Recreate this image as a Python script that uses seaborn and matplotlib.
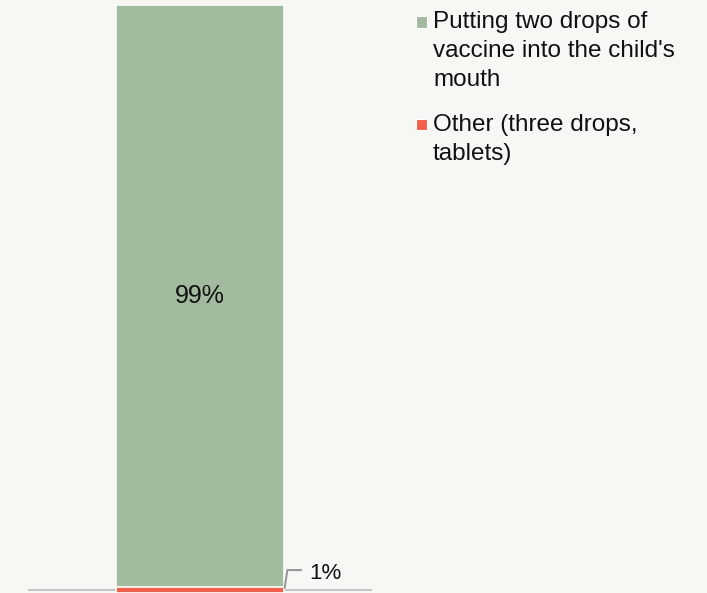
import matplotlib
matplotlib.use("Agg")
import matplotlib.pyplot as plt
import seaborn as sns
import pandas as pd
from matplotlib.patches import Rectangle

categories = ["Putting two drops of\nvaccine into the child's\nmouth", "Other (three drops,\ntablets)"]
values = [99, 1]
colors = ["#a2bb9f", "#f2604c"]
labels = ["99%", "1%"]

BG = "#f7f7f3"
sns.set_theme(style="white")
plt.rcParams["font.family"] = ["Liberation Sans", "DejaVu Sans"]

fig = plt.figure(figsize=(7.07, 5.93), dpi=100, facecolor=BG)
ax = fig.add_axes([28/707, 0.0, 344/707, (593-5)/593])
ax.set_facecolor(BG)

# stacked: draw cumulative totals, largest first
cum = [sum(values[i:]) for i in range(len(values))]
for i, (c, col) in enumerate(zip(cum, colors)):
    df = pd.DataFrame({"x": ["a"], "y": [c]})
    sns.barplot(data=df, x="x", y="y", color=col, width=1.0, saturation=1,
                edgecolor="white", linewidth=1.2, ax=ax)

ax.set_xlim(-1.02, 1.02)
ax.set_ylim(0, 100)
for s in ["top", "right", "left", "bottom"]:
    ax.spines[s].set_visible(False)
ax.axhline(0.43, color="#bbbbbb", lw=1.2, zorder=0.5)
ax.set_xticks([]); ax.set_yticks([])
ax.set_xlabel(""); ax.set_ylabel("")

# value labels
ax.text(0, 100 - 291/5.88, labels[0], ha="center", va="center", fontsize=18, color="#111111")
ax.plot([0.502, 0.518, 0.60], [0.85, 3.9, 3.9], color="#999999", lw=1.5, clip_on=False)
ax.text(0.648, 3.4, labels[1], ha="left", va="center", fontsize=16, color="#111111")

# legend (manual)
ys = [22, 124.5]
for y, cat, col in zip(ys, categories, colors):
    fig.patches.append(Rectangle((416/707, 1 - (y+5.5)/593), 11/707, 11/593,
                                 transform=fig.transFigure, facecolor=col, edgecolor="white", lw=0.8))
    fig.text(433/707, 1 - (y-11)/593, cat, ha="left", va="top", fontsize=17.5,
             color="#111111", linespacing=1.42)

fig.savefig("out.png", dpi=100, facecolor=BG)
